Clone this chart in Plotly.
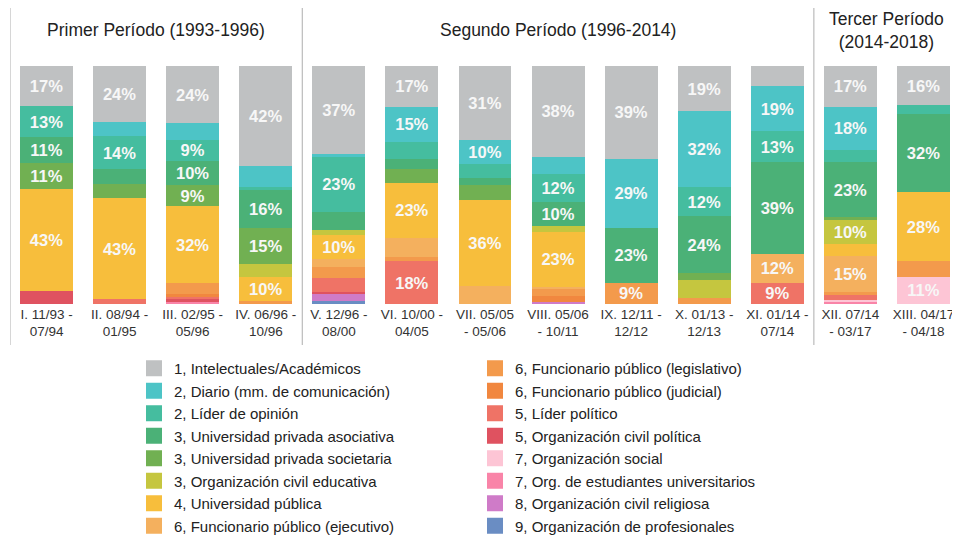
import plotly.graph_objects as go

periods = ["I. 11/93 -<br>07/94", "II. 08/94 -<br>01/95", "III. 02/95 -<br>05/96", "IV. 06/96 -<br>10/96",
           "V. 12/96 -<br>08/00", "VI. 10/00 -<br>04/05", "VII. 05/05<br>- 05/06", "VIII. 05/06<br>- 10/11",
           "IX. 12/11 -<br>12/12", "X. 01/13 -<br>12/13", "XI. 01/14 -<br>07/14", "XII. 07/14<br>- 03/17",
           "XIII. 04/17<br>- 04/18"]

series_names = [
    "1, Intelectuales/Académicos",
    "2, Diario (mm. de comunicación)",
    "2, Líder de opinión",
    "3, Universidad privada asociativa",
    "3, Universidad privada societaria",
    "3, Organización civil educativa",
    "4, Universidad pública",
    "6, Funcionario público (ejecutivo)",
    "6, Funcionario público (legislativo)",
    "6, Funcionario público (judicial)",
    "5, Líder político",
    "5, Organización civil política",
    "7, Organización social",
    "7, Org. de estudiantes universitarios",
    "8, Organización civil religiosa",
    "9, Organización de profesionales",
]

intelectuales   = [17, 23.6, 24, 42, 37, 17, 31, 38, 39, 19, 8.4, 17, 16]
diario          = [0, 5.8, 7, 8.8, 1.1, 15, 10, 7.1, 29, 32, 19, 18, 0]
lider_opinion   = [13, 14, 9, 1.4, 23, 7, 5.8, 12, 0, 12, 13, 5.3, 3.4]
u_asociativa    = [11, 6, 10, 16, 7.4, 4.3, 2.9, 10, 23, 24, 38.6, 23, 32]
u_societaria    = [11, 6, 9, 15, 0, 5.6, 6.6, 0, 0, 2.8, 0, 1.3, 0]
civil_educativa = [0, 0, 0, 5.7, 2.4, 0, 0, 2.4, 0, 7.5, 0, 10, 0]
u_publica       = [43, 42.6, 32, 10, 10, 23, 36, 23, 0, 0, 0, 5, 28]
f_ejecutivo     = [0, 0, 0, 0, 3.4, 8.1, 7.5, 1.0, 0, 0, 12, 15, 0]
f_legislativo   = [0, 0, 5, 1.3, 4.3, 1.7, 0, 2.9, 9, 2.7, 0, 1.3, 6.4]
f_judicial      = [0, 0, 1, 0, 0, 0, 0, 2.5, 0, 0, 0, 0, 0]
lider_politico  = [0, 2, 1, 0, 6, 18, 0, 0, 0, 0, 9, 2.1, 0]
civil_politica  = [5.6, 0, 0.8, 0, 0.7, 0, 0, 0, 0, 0, 0, 0, 0]
org_social      = [0, 0, 0, 0, 0, 0, 0, 0, 0, 0, 0, 0.7, 11]
estudiantes     = [0, 0, 1.2, 0, 0, 0, 0, 0, 0, 0, 0, 1.0, 0]
religiosa       = [0, 0, 0, 0, 3.1, 0, 0, 0.8, 0, 0, 0, 0, 0]
profesionales   = [0, 0, 0, 0, 1.3, 0, 0, 0, 0, 0, 0, 0, 0]

series_values = [intelectuales, diario, lider_opinion, u_asociativa, u_societaria, civil_educativa,
                 u_publica, f_ejecutivo, f_legislativo, f_judicial, lider_politico, civil_politica,
                 org_social, estudiantes, religiosa, profesionales]

colors = ["#BFC1C2", "#4DC4C6", "#45BD9F", "#4BB177", "#71B052", "#C5C63F", "#F7BE3C", "#F4B05E",
          "#F39A4C", "#F1873F", "#EF7366", "#DF5260", "#FDC5D5", "#F984A8", "#CF7BC8", "#6A8DC3"]

period_titles = ["Primer Período (1993-1996)", "Segundo Período (1996-2014)", "Tercer Período<br>(2014-2018)"]
period_centers = [1.5, 7, 11.5]
period_bounds = [-0.5, 3.5, 10.5]

FONT = "Liberation Sans, Arial, sans-serif"
W, H = 952, 530  # page body adds an 8px offset inside the 960x538 window

fig = go.Figure()
n = len(series_names)
for i in reversed(range(n)):
    vals = series_values[i]
    texts = [f"{round(v)}%" if v >= 9 else "" for v in vals]
    fig.add_trace(go.Bar(
        x=periods, y=vals, name=series_names[i],
        marker=dict(color=colors[i], line=dict(width=0)),
        text=texts, textposition="inside", insidetextanchor="middle",
        textfont=dict(color="#F7F7F7", size=16.5, family=FONT, weight="bold"),
        constraintext="none", textangle=0,
        showlegend=False,
        hoverinfo="x+y+name",
    ))

# legend entries (square swatches like the reference)
for i in range(n):
    fig.add_trace(go.Scatter(
        x=[None], y=[None], mode="markers", name=series_names[i],
        marker=dict(symbol="square", size=16, color=colors[i], line=dict(width=0)),
        legend="legend" if i < 8 else "legend2",
        legendrank=i + 1, showlegend=True, hoverinfo="skip",
    ))

for b in period_bounds:
    fig.add_shape(type="line", xref="x", yref="paper", x0=b, x1=b, y0=-0.172, y1=1.244,
                  line=dict(color="#BBBBBB", width=1.2))

for t, c in zip(period_titles, period_centers):
    fig.add_annotation(x=c, xref="x", y=1.151, yref="paper", text=t, showarrow=False,
                       font=dict(size=17.5, color="#222222", family=FONT), yanchor="middle")

legend_common = dict(orientation="v", xref="container", yref="container", xanchor="left", yanchor="top",
                     font=dict(size=15, color="#222222", family=FONT), traceorder="normal",
                     bgcolor="rgba(0,0,0,0)", borderwidth=0, itemclick=False, itemdoubleclick=False)

fig.update_layout(
    width=W, height=H,
    margin=dict(l=2, r=0, t=58, b=234, autoexpand=False),
    paper_bgcolor="white", plot_bgcolor="white",
    barmode="stack", barnorm="percent", bargap=0.276,
    showlegend=True,
    legend=dict(x=126 / W, y=1 - 344 / H, **legend_common),
    legend2=dict(x=467 / W, y=1 - 344 / H, **legend_common),
    xaxis=dict(type="category", categoryarray=periods, categoryorder="array",
               range=[-0.5, 12.5], showgrid=False, zeroline=False, showline=False,
               ticks="", tickangle=0, automargin=False,
               tickfont=dict(size=13.5, color="#333333", family=FONT)),
    yaxis=dict(range=[0, 100], visible=False, automargin=False),
    font=dict(family=FONT),
)

fig.write_html("out.html")
